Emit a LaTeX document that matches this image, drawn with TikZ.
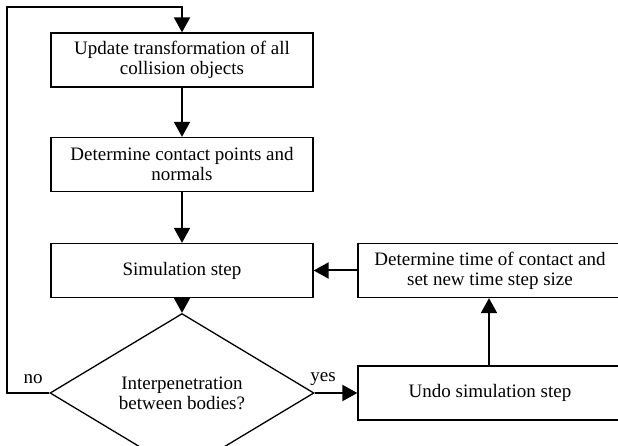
\documentclass[tikz,border=0pt]{standalone}
\usepackage{fontspec}
\setmainfont{Liberation Serif}
\usetikzlibrary{arrows.meta,shapes.geometric}
\begin{document}
\begin{tikzpicture}[x=1pt,y=-1pt,
  every node/.style={font=\fontsize{19}{20}\selectfont},
  box/.style={draw,line width=1.3pt,rectangle,minimum width=262pt,minimum height=54pt,inner sep=0pt,align=center},
  rbox/.style={draw,line width=1.3pt,rectangle,minimum width=264pt,minimum height=54pt,inner sep=0pt,align=center},
  flow/.style={line width=2pt,-{Triangle[length=15pt,width=16pt]}},
  lbl/.style={inner sep=0pt}]
\useasboundingbox (0,0) rectangle (618,446);
\node[box] (b1) at (182,60) {Update transformation of all\\collision objects};
\node[box] (b2) at (182,164.5) {Determine contact points and\\normals};
\node[box] (b3) at (182,270.5) {Simulation step};
\node[draw,line width=1.3pt,diamond,minimum width=264pt,minimum height=108pt,inner sep=0pt,align=center] (d) at (182,393) {Interpenetration\\between bodies?};
\node[rbox] (u) at (490,393) {Undo simulation step};
\node[rbox] (t) at (490,270.5) {Determine time of contact and\\set new time step size};
\coordinate (c1) at (7,393);
\coordinate (c2) at (7,7);
\coordinate (c3) at (182,7);
\draw[flow] (b1) -- (b2);
\draw[flow] (b2) -- (b3);
\draw[flow] (b3) -- (d);
\draw[flow] (d.east) -- (u.west);
\draw[flow] (u.north -| 489,0) -- (t.south -| 489,0);
\draw[flow] (t.west) -- (b3.east);
\draw[flow] (d.west) -- (c1) -- (c2) -- (c3) -- (b1.north);
\node[lbl] (no) at (33,379) {no};
\node[lbl] (yes) at (323,379) {yes};
\end{tikzpicture}
\end{document}
